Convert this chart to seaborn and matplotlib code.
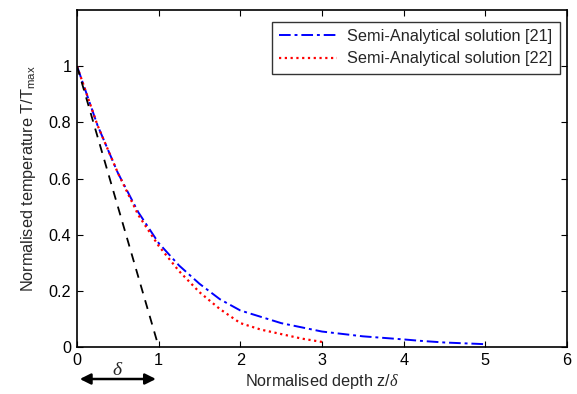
import numpy as np
import pandas as pd
import matplotlib
matplotlib.use("Agg")
import matplotlib.pyplot as plt
import seaborn as sns

# values
depth_21 = [0, 0.25, 0.5, 0.75, 1.0, 1.25, 1.5, 1.75, 2.0, 2.5, 3.0, 3.5, 4.0, 4.2, 4.5, 5.0]
temp_21 = [1.0, 0.79, 0.62, 0.48, 0.37, 0.29, 0.225, 0.17, 0.13, 0.085, 0.055, 0.038, 0.027, 0.022, 0.016, 0.01]

depth_22 = [0, 0.25, 0.5, 0.75, 1.0, 1.25, 1.5, 1.75, 2.0, 2.25, 2.5, 2.75, 3.0]
temp_22 = [1.0, 0.79, 0.62, 0.47, 0.36, 0.27, 0.195, 0.135, 0.085, 0.062, 0.046, 0.03, 0.018]

depth_lin = [0, 1]
temp_lin = [1, 0]

labels = ["Semi-Analytical solution [21]", "Semi-Analytical solution [22]"]
x_ticks = [0, 1, 2, 3, 4, 5, 6]
y_ticks = [0, 0.2, 0.4, 0.6, 0.8, 1]

sns.set_style("ticks")
plt.rcParams["font.family"] = ["Liberation Sans", "DejaVu Sans"]
plt.rcParams["mathtext.fontset"] = "custom"
plt.rcParams["mathtext.it"] = "Liberation Serif:italic"
plt.rcParams["mathtext.rm"] = "Liberation Sans"

fs = 11.7

fig = plt.figure(figsize=(5.77, 3.94), dpi=100)
ax = fig.add_axes([0.1335, 0.1193, 0.8492, 0.8553])

df21 = pd.DataFrame({"z": depth_21, "T": temp_21})
df22 = pd.DataFrame({"z": depth_22, "T": temp_22})
dflin = pd.DataFrame({"z": depth_lin, "T": temp_lin})

sns.lineplot(data=df21, x="z", y="T", ax=ax, color="#0000ff", lw=1.4,
             label=labels[0], sort=False)
ax.lines[-1].set_dashes([6, 2, 1.5, 2])
sns.lineplot(data=df22, x="z", y="T", ax=ax, color="#ff0000", lw=1.6,
             label=labels[1], sort=False)
ax.lines[-1].set_linestyle((0, (1, 1.6)))
sns.lineplot(data=dflin, x="z", y="T", ax=ax, color="black", lw=1.3, sort=False)
ax.lines[-1].set_dashes([5, 4])

ax.set_xlim(0, 6)
ax.set_ylim(0, 1.2)
ax.set_xticks(x_ticks)
ax.set_yticks(y_ticks)
ax.set_xticklabels([str(t) for t in x_ticks])
ax.set_yticklabels(["0", "0.2", "0.4", "0.6", "0.8", "1"])
ax.tick_params(direction="in", top=True, right=True, length=4, width=0.8,
               labelsize=fs, pad=4, colors="black")
for s in ax.spines.values():
    s.set_linewidth(1.2)
    s.set_color("black")

ax.set_xlabel(r"Normalised depth z/$\delta$", fontsize=fs, labelpad=3)
ax.set_ylabel(r"Normalised temperature T/T$_{\mathrm{max}}$", fontsize=fs, labelpad=8)

leg = ax.legend(loc="upper right", bbox_to_anchor=(0.985, 0.965), fontsize=fs,
                handlelength=3.6, frameon=True, fancybox=False, borderpad=0.45,
                labelspacing=0.45, handletextpad=0.6, borderaxespad=0)
leg.get_frame().set_edgecolor("black")
leg.get_frame().set_linewidth(1.0)

# delta arrow under the axis
ax.annotate("", xy=(0, -0.114), xytext=(1, -0.114),
            arrowprops=dict(arrowstyle="<|-|>", color="black", lw=1.8,
                            mutation_scale=16),
            annotation_clip=False)
ax.text(0.5, -0.082, r"$\delta$", ha="center", va="center", fontsize=14)

fig.savefig("out.png", dpi=100)
